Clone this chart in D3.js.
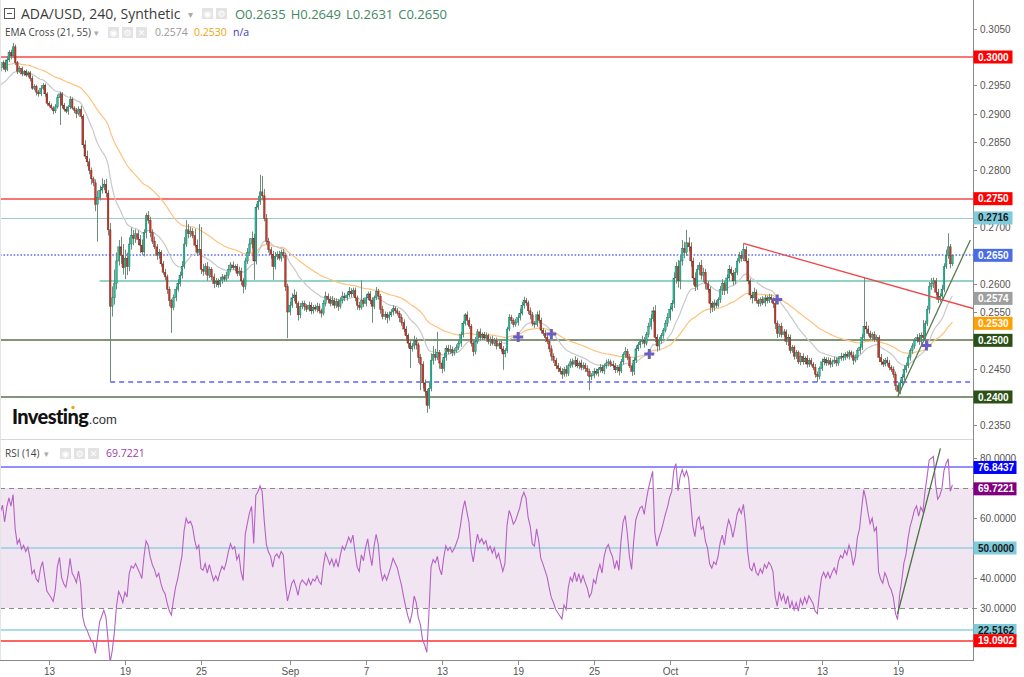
<!DOCTYPE html>
<html><head><meta charset="utf-8">
<script src="https://cdn.jsdelivr.net/npm/d3@7"></script>
<style>html,body{margin:0;padding:0;background:#fff;overflow:hidden}svg{display:block}</style>
</head><body><svg id="c" width="1024" height="677"></svg>
<script>
// ---------------- DATA ----------------
const firstCandle = "2019-08-09T04:00:00Z"; // 240-minute candles
const firstOpen = 0.2975;
const closes = [
0.2982,0.2990,0.2978,0.2995,0.3008,0.3002,0.3018,0.2990,0.2975,0.2980,0.2970,0.2974,0.2968,0.2972,0.2962,0.2945,0.2948,0.2938,0.2935,0.2945,0.2950,0.2935,0.2918,0.2914,
0.2910,0.2905,0.2912,0.2928,0.2935,0.2915,0.2908,0.2904,0.2912,0.2925,0.2910,0.2906,0.2900,0.2908,0.2895,0.2845,0.2825,0.2815,0.2800,0.2785,0.2778,0.2740,0.2752,0.2765,
0.2770,0.2775,0.2760,0.2695,0.2560,0.2575,0.2600,0.2640,0.2665,0.2650,0.2628,0.2645,0.2630,0.2670,0.2685,0.2680,0.2688,0.2678,0.2668,0.2656,0.2690,0.2720,0.2712,0.2690,
0.2675,0.2665,0.2650,0.2655,0.2635,0.2620,0.2612,0.2590,0.2570,0.2558,0.2575,0.2590,0.2600,0.2615,0.2630,0.2670,0.2695,0.2688,0.2692,0.2685,0.2668,0.2655,0.2660,0.2625,
0.2622,0.2630,0.2615,0.2625,0.2612,0.2600,0.2605,0.2598,0.2606,0.2612,0.2608,0.2615,0.2625,0.2633,0.2628,0.2630,0.2618,0.2622,0.2605,0.2595,0.2640,0.2655,0.2670,0.2680,
0.2640,0.2735,0.2745,0.2762,0.2755,0.2715,0.2675,0.2660,0.2652,0.2630,0.2648,0.2652,0.2645,0.2655,0.2650,0.2595,0.2550,0.2562,0.2575,0.2580,0.2565,0.2545,0.2560,0.2565,
0.2560,0.2555,0.2562,0.2552,0.2558,0.2555,0.2560,0.2552,0.2548,0.2565,0.2578,0.2572,0.2565,0.2570,0.2562,0.2568,0.2560,0.2570,0.2578,0.2575,0.2580,0.2586,0.2582,0.2588,
0.2575,0.2562,0.2558,0.2570,0.2565,0.2575,0.2582,0.2570,0.2560,0.2575,0.2586,0.2578,0.2555,0.2542,0.2546,0.2540,0.2545,0.2550,0.2556,0.2552,0.2548,0.2540,0.2532,0.2520,
0.2508,0.2495,0.2485,0.2490,0.2500,0.2492,0.2470,0.2458,0.2425,0.2410,0.2385,0.2415,0.2465,0.2475,0.2470,0.2478,0.2460,0.2450,0.2470,0.2486,0.2480,0.2484,0.2478,0.2482,
0.2488,0.2495,0.2510,0.2530,0.2545,0.2535,0.2525,0.2495,0.2480,0.2498,0.2515,0.2505,0.2510,0.2504,0.2508,0.2498,0.2502,0.2495,0.2500,0.2490,0.2494,0.2485,0.2476,0.2482,
0.2520,0.2540,0.2535,0.2528,0.2532,0.2540,0.2548,0.2562,0.2570,0.2566,0.2552,0.2545,0.2530,0.2528,0.2545,0.2535,0.2518,0.2512,0.2505,0.2498,0.2485,0.2472,0.2465,0.2455,
0.2450,0.2445,0.2440,0.2448,0.2442,0.2455,0.2462,0.2458,0.2464,0.2455,0.2460,0.2452,0.2456,0.2450,0.2445,0.2436,0.2438,0.2445,0.2442,0.2448,0.2452,0.2446,0.2455,0.2460,
0.2462,0.2458,0.2455,0.2448,0.2452,0.2446,0.2462,0.2475,0.2480,0.2470,0.2455,0.2445,0.2465,0.2485,0.2492,0.2498,0.2500,0.2495,0.2510,0.2525,0.2538,0.2552,0.2505,0.2490,
0.2500,0.2508,0.2518,0.2530,0.2540,0.2555,0.2565,0.2610,0.2630,0.2605,0.2640,0.2662,0.2655,0.2672,0.2665,0.2640,0.2610,0.2595,0.2625,0.2632,0.2615,0.2620,0.2600,0.2590,
0.2565,0.2558,0.2566,0.2562,0.2572,0.2590,0.2600,0.2588,0.2610,0.2625,0.2618,0.2605,0.2620,0.2640,0.2650,0.2645,0.2660,0.2640,0.2605,0.2580,0.2575,0.2585,0.2570,0.2565,
0.2572,0.2566,0.2575,0.2570,0.2576,0.2572,0.2565,0.2530,0.2512,0.2525,0.2510,0.2515,0.2498,0.2505,0.2482,0.2488,0.2472,0.2478,0.2462,0.2472,0.2462,0.2468,0.2458,0.2464,
0.2458,0.2452,0.2440,0.2436,0.2450,0.2462,0.2466,0.2460,0.2464,0.2458,0.2462,0.2465,0.2460,0.2468,0.2472,0.2470,0.2475,0.2472,0.2478,0.2474,0.2465,0.2470,0.2482,0.2488,
0.2505,0.2525,0.2520,0.2512,0.2505,0.2510,0.2502,0.2505,0.2470,0.2462,0.2458,0.2465,0.2460,0.2452,0.2448,0.2440,0.2420,0.2410,0.2425,0.2435,0.2448,0.2455,0.2470,0.2482,
0.2490,0.2500,0.2505,0.2498,0.2508,0.2505,0.2530,0.2555,0.2595,0.2600,0.2605,0.2585,0.2572,0.2578,0.2590,0.2630,0.2650,0.2665,0.2635,0.2650
];
// wick lengths above body / below body, in units of 0.0001
const upperWick = [
3,4,5,6,4,5,7,4,3,4,3,3,4,3,3,5,4,3,4,3,4,3,3,4,
4,3,5,6,4,3,4,5,3,6,4,3,4,5,6,4,8,10,6,5,4,6,12,8,
16,8,10,5,12,20,25,15,12,18,20,15,10,12,14,10,8,6,8,10,6,5,8,6,
6,8,5,6,4,5,6,4,5,3,6,5,8,6,10,12,17,10,8,6,12,10,45,40,
10,6,8,5,4,6,5,4,6,5,4,6,8,5,6,4,5,8,6,5,6,8,10,12,
8,6,10,30,28,12,8,6,5,6,8,5,6,5,6,4,5,6,8,10,6,4,6,5,
5,4,6,5,4,5,6,5,4,6,8,5,6,8,5,6,5,6,8,6,5,8,6,5,
5,4,6,36,5,6,4,5,6,4,8,5,4,6,5,4,6,5,6,4,5,4,6,5,
5,4,6,5,8,5,4,6,5,6,4,10,12,15,10,37,5,6,8,5,6,8,5,4,
5,6,5,4,3,6,5,4,6,8,5,6,4,5,6,4,5,6,4,5,4,6,5,4,
4,6,5,4,6,5,8,6,7,5,4,6,5,4,6,8,5,4,6,5,4,6,5,4,
5,4,6,5,8,4,5,6,8,5,4,6,5,4,6,5,4,6,5,4,6,5,4,6,
5,4,6,5,4,6,5,4,8,5,6,4,5,6,5,4,8,6,5,6,8,7,10,6,
6,5,4,6,8,5,6,10,8,12,10,15,12,23,10,8,6,10,8,6,10,8,6,5,
5,4,6,5,4,6,8,5,6,8,5,6,8,5,6,8,11,6,5,4,6,8,5,4,
4,6,5,4,6,5,4,6,5,4,6,5,4,6,5,4,3,5,4,6,5,4,6,5,
5,4,6,5,4,6,5,4,6,5,4,6,5,4,6,5,4,6,5,4,6,5,4,6,
6,85,8,6,5,4,6,5,4,6,5,4,6,5,4,6,5,4,6,5,8,6,5,4,
5,4,6,8,6,28,5,6,8,10,6,5,6,5,8,6,10,24,5,0
];
const lowerWick = [
4,3,5,3,4,6,3,4,5,3,4,3,3,4,5,3,4,6,5,4,3,5,4,3,
3,6,4,3,48,5,4,3,6,4,3,5,8,3,4,6,5,8,7,10,6,12,66,5,
6,5,8,10,133,18,12,10,8,15,12,20,15,8,10,12,8,10,14,6,8,10,6,8,
5,4,8,6,5,4,6,8,10,45,5,6,4,5,6,4,5,8,6,5,4,6,5,8,
8,6,10,5,6,8,6,5,4,6,5,4,6,5,4,6,5,4,8,12,6,5,6,8,
33,6,5,6,8,5,6,5,8,23,5,6,4,6,5,8,46,6,5,6,8,10,6,5,
8,5,4,6,5,4,6,5,8,4,5,6,5,4,6,5,8,4,5,6,5,4,6,5,
6,8,5,4,6,5,4,6,29,5,4,6,8,5,6,10,5,4,6,5,4,8,6,5,
6,8,34,5,6,8,10,46,10,8,13,6,5,8,6,5,10,8,5,6,5,4,6,5,
4,5,6,5,4,8,5,6,8,5,4,6,5,4,6,5,8,4,5,6,4,5,28,6,
5,4,6,5,4,6,5,4,6,5,6,8,5,6,4,5,6,4,8,5,6,8,5,6,
6,5,8,4,6,5,4,6,5,4,6,5,4,6,8,24,6,5,4,6,5,4,6,5,
6,5,4,6,5,8,4,5,6,5,4,8,6,5,4,6,5,8,4,5,6,5,8,10,
8,6,5,4,6,5,4,8,10,12,15,8,10,6,8,10,12,8,6,10,8,12,10,6,
17,8,6,5,4,6,10,8,6,5,4,8,6,5,4,6,5,4,6,8,10,6,5,6,
5,4,6,5,4,6,8,10,8,6,5,4,6,8,5,4,6,5,4,6,5,4,6,5,
4,5,6,10,5,4,6,5,4,6,5,4,6,5,4,6,5,4,6,5,8,4,5,6,
5,6,8,5,4,6,5,4,8,6,5,4,6,5,4,6,8,10,5,4,6,5,4,6,
6,5,4,6,5,4,6,5,8,6,8,5,6,4,6,5,4,6,8,4
];
// indicator seeds (state before the first visible candle)
const ema21Seed = 0.2947, ema55Seed = 0.2986;
const rsiSeedGain = 0.0006, rsiSeedLoss = 0.0004;

const priceTicks = [0.2350,0.2400,0.2450,0.2500,0.2550,0.2600,0.2650,0.2700,0.2750,0.2800,0.2850,0.2900,0.2950,0.3000,0.3050];
const rsiTicks = [30,40,50,60,70,80];
const xTickDates = ["2019-08-13","2019-08-19","2019-08-25","2019-09-01","2019-09-07","2019-09-13","2019-09-19","2019-09-25","2019-10-01","2019-10-07","2019-10-13","2019-10-19"];
const xTickLabels = ["13","19","25","Sep","7","13","19","25","Oct","7","13","19"];

// horizontal levels in price pane: value, start candle index
const priceLevels = [
  {v:0.3000, from:0, kind:"red"},
  {v:0.2750, from:0, kind:"red"},
  {v:0.2716, from:0, kind:"cyan"},
  {v:0.2650, from:0, kind:"bluedot"},
  {v:0.2605, from:47, kind:"teal"},
  {v:0.2500, from:0, kind:"green"},
  {v:0.2427, from:52, kind:"bluedash"},
  {v:0.2400, from:0, kind:"green"}
];
const priceLabels = [
  {v:0.3000, text:"0.3000", bg:"#ff0000", fg:"#fff"},
  {v:0.2750, text:"0.2750", bg:"#ff0000", fg:"#fff"},
  {v:0.2716, text:"0.2716", bg:"#7ecbdc", fg:"#1a1a1a"},
  {v:0.2650, text:"0.2650", bg:"#4a6de5", fg:"#fff"},
  {v:0.2574, text:"0.2574", bg:"#9e9e9e", fg:"#fff"},
  {v:0.2530, text:"0.2530", bg:"#ffa000", fg:"#fff"},
  {v:0.2500, text:"0.2500", bg:"#2b5016", fg:"#fff"},
  {v:0.2400, text:"0.2400", bg:"#2b5016", fg:"#fff"}
];
const rsiLevels = [
  {v:76.8437, color:"#6a6aff"},
  {v:50, color:"#93cfe0"},
  {v:22.5162, color:"#93cfe0"},
  {v:19.0902, color:"#ff3030"}
];
const rsiLabels = [
  {v:76.8437, text:"76.8437", bg:"#0000ff", fg:"#fff"},
  {v:69.7221, text:"69.7221", bg:"#800080", fg:"#fff"},
  {v:50, text:"50.0000", bg:"#7ecbdc", fg:"#1a1a1a"},
  {v:22.5162, text:"22.5162", bg:"#7ecbdc", fg:"#1a1a1a"},
  {v:19.0902, text:"19.0902", bg:"#ff0000", fg:"#fff"}
];
const resistanceTrend = [{i:352, p:0.2671},{i:461, p:0.2556}];
const supportTrend = [{i:425, p:0.2400},{i:459.5, p:0.2677}];
const rsiTrend = [{i:425, v:28},{i:445.3, v:83.2}];
const crossMarks = [{i:245.3,p:0.2506},{i:261,p:0.2511},{i:307.4,p:0.2476},{i:368,p:0.2572},{i:438.7,p:0.2491}];
const ohlcText = [{t:"O0.2635"},{t:"H0.2649"},{t:"L0.2631"},{t:"C0.2650"}];

// ---------------- SCALES ----------------
const svg = d3.select("#c");
const T0 = Date.parse(firstCandle), H4 = 4*3600e3;
const tOf = i => new Date(T0 + i*H4);
const AX = 973;
const x = d3.scaleUtc().domain([new Date(Date.UTC(2019,7,9,3,15)), new Date(Date.UTC(2019,9,24,23,0))]).range([0, AX]);
const y = d3.scaleLinear().domain([0.30, 0.24]).range([57, 397]);
const yr = d3.scaleLinear().domain([80, 30]).range([458, 608]);
const xi = i => x(tOf(i));

const candles = closes.map((c,i) => {
  const o = i === 0 ? firstOpen : closes[i-1];
  const top = Math.max(o,c), bot = Math.min(o,c);
  return {i, o, c, h: top + (upperWick[i]||0)*1e-4, l: bot - (lowerWick[i]||0)*1e-4};
});
function ema(vals, n, seed){ const k = 2/(n+1); let e = seed; return vals.map(v => (e = e + k*(v-e))); }
const ema21 = ema(closes, 21, ema21Seed), ema55 = ema(closes, 55, ema55Seed);
let ag = rsiSeedGain, al = rsiSeedLoss, prev = firstOpen;
const rsi = closes.map(c => { const d = c - prev; prev = c; ag = (ag*13 + Math.max(d,0))/14; al = (al*13 + Math.max(-d,0))/14; return 100 - 100/(1+ag/al); });

const defs = svg.append("defs");
defs.append("clipPath").attr("id","cp").append("rect").attr("x",0).attr("y",0).attr("width",AX).attr("height",439);
defs.append("clipPath").attr("id","cr").append("rect").attr("x",0).attr("y",441).attr("width",AX).attr("height",219);

// ---------------- PRICE PANE ----------------
const gp = svg.append("g").attr("clip-path","url(#cp)");
const lvlStyle = {
  red:{c:"#f44848", w:1.6, d:null, crisp:false},
  cyan:{c:"#9cc9cf", w:1, d:null, crisp:true},
  bluedot:{c:"#5d6ef5", w:1.6, d:"1.6,1.8", crisp:false},
  teal:{c:"#6cc6b2", w:1.5, d:null, crisp:false},
  green:{c:"#56734a", w:1.3, d:null, crisp:false},
  bluedash:{c:"#5f5fff", w:1.6, d:"5,4", crisp:false}
};
priceLevels.forEach(L => {
  const s = lvlStyle[L.kind];
  const yy = s.crisp ? Math.round(y(L.v))+0.5 : Math.round(y(L.v));
  gp.append("line").attr("x1", L.from ? xi(L.from) : 0).attr("x2", L.kind==="bluedash" ? 970 : AX)
    .attr("y1", yy).attr("y2", yy)
    .attr("stroke", s.c).attr("stroke-width", s.w).attr("stroke-dasharray", s.d);
});
const line = (acc) => d3.line().x((d,i)=>xi(i)).y(acc);
gp.append("path").datum(ema55).attr("d", line(d=>y(d))).attr("fill","none").attr("stroke","#ffc27a").attr("stroke-width",1.2);
gp.append("path").datum(ema21).attr("d", line(d=>y(d))).attr("fill","none").attr("stroke","#c9c9c9").attr("stroke-width",1.2);

const cg = gp.append("g");
cg.selectAll("line").data(candles).join("line")
  .attr("x1", d=>Math.round(xi(d.i))+0.5).attr("x2", d=>Math.round(xi(d.i))+0.5)
  .attr("y1", d=>y(d.h)).attr("y2", d=>y(d.l)).attr("stroke","#6f8c7c").attr("stroke-width",1);
cg.selectAll("rect").data(candles).join("rect")
  .attr("x", d=>xi(d.i)-0.85).attr("width",1.7)
  .attr("y", d=>y(Math.max(d.o,d.c)))
  .attr("height", d=>Math.max(1, y(Math.min(d.o,d.c)) - y(Math.max(d.o,d.c))))
  .attr("fill", d=> d.c >= d.o ? "#21c29e" : "#c23b2e")
  .attr("stroke", d=> d.c >= d.o ? "#2b6a58" : "#7a2a22").attr("stroke-width",0.4);

const tl = d3.line().x(d=>xi(d.i)).y(d=>y(d.p));
gp.append("path").datum(resistanceTrend).attr("d", tl).attr("stroke","#f04545").attr("stroke-width",1.3).attr("fill","none");
gp.append("path").datum(supportTrend).attr("d", tl).attr("stroke","#5a7a4c").attr("stroke-width",1.3).attr("fill","none");
crossMarks.forEach(m => {
  const cx = xi(m.i), cy = y(m.p);
  gp.append("path").attr("d", `M${cx-5},${cy}H${cx+5}M${cx},${cy-5}V${cy+5}`).attr("stroke","#6a5fc0").attr("stroke-width",3);
});

// ---------------- RSI PANE ----------------
const gr = svg.append("g").attr("clip-path","url(#cr)");
gr.append("rect").attr("x",0).attr("width",AX).attr("y",yr(70)).attr("height",yr(30)-yr(70)).attr("fill","#f2e5f2");
[70,30].forEach(v => gr.append("line").attr("x1",0).attr("x2",AX).attr("y1",yr(v)+0.5).attr("y2",yr(v)+0.5)
  .attr("stroke","#8a8a8a").attr("stroke-dasharray","5,4"));
rsiLevels.forEach(L => gr.append("line").attr("x1",0).attr("x2",AX).attr("y1",Math.round(yr(L.v))).attr("y2",Math.round(yr(L.v)))
  .attr("stroke",L.color).attr("stroke-width",1.6));
gr.append("path").datum(rsi).attr("d", line(d=>yr(d))).attr("fill","none").attr("stroke","#b462c4").attr("stroke-width",1.1);
gr.append("path").datum(rsiTrend).attr("d", d3.line().x(d=>xi(d.i)).y(d=>yr(d.v))).attr("stroke","#4f7046").attr("stroke-width",1.3).attr("fill","none");

// ---------------- FRAMES / AXES ----------------
svg.append("line").attr("x1",0).attr("x2",AX).attr("y1",439.5).attr("y2",439.5).attr("stroke","#d6d6d6");
svg.append("line").attr("x1",0.5).attr("x2",0.5).attr("y1",0).attr("y2",660).attr("stroke","#e4e4e4");
svg.append("line").attr("x1",AX+0.5).attr("x2",AX+0.5).attr("y1",0).attr("y2",661).attr("stroke","#8a8a8a");
svg.append("line").attr("x1",0).attr("x2",AX+1).attr("y1",660.5).attr("y2",660.5).attr("stroke","#8a8a8a");

const axFont = "'Liberation Sans', Arial, sans-serif";
const pt = svg.append("g");
priceTicks.forEach(v => {
  const yy = Math.round(y(v))+0.5;
  pt.append("line").attr("x1",AX).attr("x2",AX+4).attr("y1",yy).attr("y2",yy).attr("stroke","#8a8a8a");
  pt.append("text").attr("x",AX+7).attr("y",yy+3.5).text(d3.format(".4f")(v))
    .attr("font-family",axFont).attr("font-size",10).attr("fill","#555");
});
rsiTicks.filter(v=>v!==70).forEach(v => {
  const yy = Math.round(yr(v))+0.5;
  pt.append("line").attr("x1",AX).attr("x2",AX+4).attr("y1",yy).attr("y2",yy).attr("stroke","#8a8a8a");
  pt.append("text").attr("x",AX+7).attr("y",yy+3.5).text(d3.format(".4f")(v))
    .attr("font-family",axFont).attr("font-size",10).attr("fill","#555");
});
function tag(yy, L, w){
  pt.append("rect").attr("x",AX+0.5).attr("y",yy-6.5).attr("width",w).attr("height",13).attr("fill",L.bg);
  pt.append("text").attr("x",AX+5).attr("y",yy+3.5).text(L.text).attr("font-family",axFont)
    .attr("font-size",10).attr("font-weight","bold").attr("fill",L.fg);
}
priceLabels.forEach(L => tag(y(L.v), L, 39));
rsiLabels.forEach(L => tag(yr(L.v), L, 43));

xTickDates.forEach((s,k) => {
  const xx = Math.round(x(new Date(s+"T00:00:00Z")))+0.5;
  pt.append("line").attr("x1",xx).attr("x2",xx).attr("y1",661).attr("y2",665).attr("stroke","#8a8a8a");
  pt.append("text").attr("x",xx).attr("y",675).attr("text-anchor","middle").text(xTickLabels[k])
    .attr("font-family",axFont).attr("font-size",10).attr("fill","#555");
});

// ---------------- HEADERS ----------------
const hf = "'Open Sans', 'Noto Sans', sans-serif";
const hd = svg.append("g");
function iconBox(xx, yy, glyph){
  hd.append("rect").attr("x",xx).attr("y",yy).attr("width",11).attr("height",11).attr("fill","#e3e3e3");
  hd.append("text").attr("x",xx+5.5).attr("y",yy+9).attr("text-anchor","middle").text(glyph)
    .attr("font-family","'DejaVu Sans', sans-serif").attr("font-size",9).attr("fill","#fff").attr("font-weight","bold");
}
// line 1
hd.append("rect").attr("x",4.5).attr("y",8.5).attr("width",10).attr("height",10).attr("fill","none").attr("stroke","#555");
hd.append("line").attr("x1",7).attr("x2",12).attr("y1",13.5).attr("y2",13.5).attr("stroke","#555");
hd.append("text").attr("x",21).attr("y",19).text("ADA/USD, 240, Synthetic").attr("font-family",hf).attr("font-size",14).attr("fill","#3a3a3a");
hd.append("text").attr("x",188).attr("y",18).text("▾").attr("font-family","'DejaVu Sans'").attr("font-size",10).attr("fill","#aaa");
iconBox(202,8,"◉"); iconBox(216,8,"⚙");
let ox = 235;
ohlcText.forEach(o => {
  const t = hd.append("text").attr("x",ox).attr("y",19).text(o.t).attr("font-family",hf).attr("font-size",13).attr("fill","#3f8a5e");
  ox += t.node().getComputedTextLength() + 5;
});
// line 2
hd.append("text").attr("x",5).attr("y",36).text("EMA Cross (21, 55)").attr("font-family",hf).attr("font-size",10).attr("fill","#444");
hd.append("text").attr("x",94).attr("y",36).text("▾").attr("font-family","'DejaVu Sans'").attr("font-size",9).attr("fill","#aaa");
iconBox(108,27,"◉"); iconBox(122,27,"⚙"); iconBox(136,27,"✕");
hd.append("text").attr("x",155).attr("y",36).text("0.2574").attr("font-family",hf).attr("font-size",10.5).attr("fill","#9a9a9a");
hd.append("text").attr("x",194).attr("y",36).text("0.2530").attr("font-family",hf).attr("font-size",10.5).attr("fill","#f5a10a");
hd.append("text").attr("x",233).attr("y",36).text("n/a").attr("font-family",hf).attr("font-size",10.5).attr("fill","#3c3cb0");
// RSI header
hd.append("text").attr("x",5).attr("y",457).text("RSI (14)").attr("font-family",hf).attr("font-size",10).attr("fill","#444");
hd.append("text").attr("x",44).attr("y",457).text("▾").attr("font-family","'DejaVu Sans'").attr("font-size",9).attr("fill","#aaa");
iconBox(60,448,"◉"); iconBox(74,448,"⚙"); iconBox(88,448,"✕");
hd.append("text").attr("x",106).attr("y",457).text("69.7221").attr("font-family",hf).attr("font-size",10.5).attr("fill","#a03aa8");
// logo
const logo = hd.append("text").attr("x",12).attr("y",424).text("Investing").attr("font-family","'Lato', 'Liberation Sans', sans-serif")
  .attr("font-weight","900").attr("font-size",20).attr("letter-spacing","-0.6").attr("fill","#111");
const lw = logo.node().getComputedTextLength();
hd.append("text").attr("x",12+lw+0.5).attr("y",424).text(".com").attr("font-family","'Liberation Sans', sans-serif").attr("font-size",13).attr("fill","#333");
hd.append("circle").attr("cx",12+lw*0.80).attr("cy",407.5).attr("r",1.7).attr("fill","#f7a21b");
</script></body></html>
